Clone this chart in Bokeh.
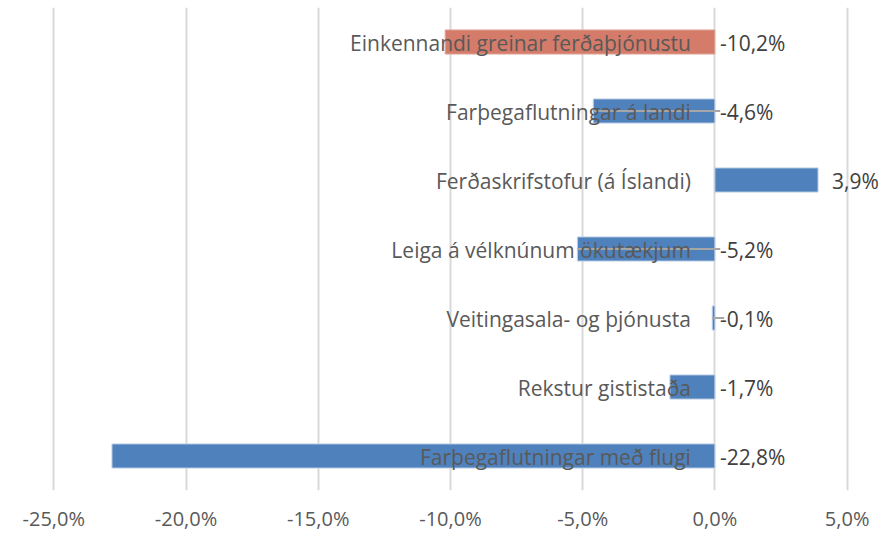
from bokeh.plotting import figure
from bokeh.models import FactorRange, FixedTicker, ColumnDataSource
from bokeh.core.properties import value
from bokeh.embed import file_html
from bokeh.resources import INLINE

categories = [
    "Einkennandi greinar ferðaþjónustu",
    "Farþegaflutningar á landi",
    "Ferðaskrifstofur (á Íslandi)",
    "Leiga á vélknúnum ökutækjum",
    "Veitingasala- og þjónusta",
    "Rekstur gististaða",
    "Farþegaflutningar með flugi",
]
values = [-10.2, -4.6, 3.9, -5.2, -0.1, -1.7, -22.8]
tick_values = [-25, -20, -15, -10, -5, 0, 5]
tick_labels = ["-25,0%", "-20,0%", "-15,0%", "-10,0%", "-5,0%", "0,0%", "5,0%"]
leader_cats = ["Farþegaflutningar á landi", "Leiga á vélknúnum ökutækjum", "Veitingasala- og þjónusta"]

BLUE = "#4F81BD"
ORANGE = "#D47B69"
FONT = "Open Sans"

colors = [ORANGE] + [BLUE] * (len(categories) - 1)
outlines = ["#E0A89C"] + ["#BFD0E6"] * (len(categories) - 1)
labels = [("%.1f" % v).replace(".", ",") + "%" for v in values]
pos_x = [max(v, 0) for v in values]
offs = [14 if v > 0 else 5 for v in values]

src = ColumnDataSource(dict(cat=categories, val=values, color=colors, outline=outlines,
                            lab=labels, px=pos_x, off=offs,
                            zero=[0] * len(values)))

p = figure(y_range=FactorRange(factors=list(reversed(categories)), range_padding=0),
           x_range=(-25.2, 6.3), frame_width=833, frame_height=483,
           output_backend="svg", toolbar_location=None,
           min_border_left=48, min_border_right=0, min_border_top=7,
           min_border_bottom=10, outline_line_color=None)

p.hbar(y="cat", left="zero", right="val", height=0.35, fill_color="color",
       line_color="outline", line_width=1, source=src)

# leader lines
lead = ColumnDataSource(dict(
    y=[c for c in categories if c in leader_cats],
    x0=[v for c, v in zip(categories, values) if c in leader_cats],
    x1=[0.2 if v < -1 else 0.35 for c, v in zip(categories, values) if c in leader_cats],
))
p.segment(x0="x0", x1="x1", y0="y", y1="y", line_color="#A6A6A6", line_width=2, source=lead)

# category labels
p.text(x="zero", y="cat", text="cat", source=src, x_offset=-24, y_offset=1,
       text_align="right", text_baseline="middle", text_font=value(FONT),
       text_font_size="21px", text_color="#595959")
# value labels
p.text(x="px", y="cat", text="lab", source=src, x_offset="off", y_offset=1,
       text_align="left", text_baseline="middle", text_font=value(FONT),
       text_font_size="21px", text_color="#404040")

p.yaxis.visible = False
p.ygrid.grid_line_color = None
p.xgrid.grid_line_color = "#D9D9D9"
p.xgrid.grid_line_width = 2
p.xaxis.ticker = FixedTicker(ticks=tick_values)
p.xaxis.major_label_overrides = {t: l for t, l in zip(tick_values, tick_labels)}
p.xaxis.axis_line_color = None
p.xaxis.major_tick_line_color = None
p.xaxis.minor_tick_line_color = None
p.xaxis.major_label_standoff = 8
p.xaxis.major_label_text_font = FONT
p.xaxis.major_label_text_font_size = "20px"
p.xaxis.major_label_text_color = "#595959"
p.xgrid.ticker = FixedTicker(ticks=tick_values)

open("out.html", "w").write(file_html(p, INLINE))
